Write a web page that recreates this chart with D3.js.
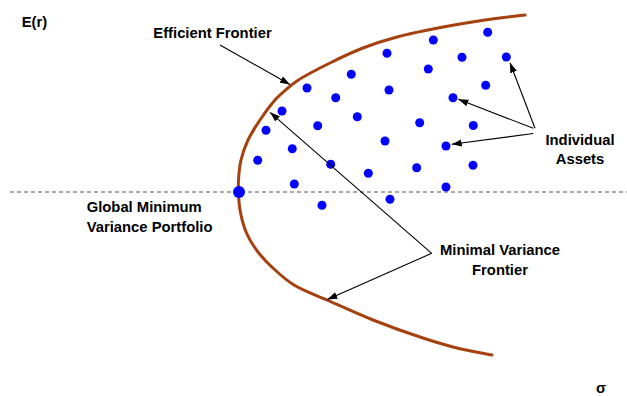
<!DOCTYPE html>
<html>
<head>
<meta charset="utf-8">
<script src="https://cdn.jsdelivr.net/npm/d3@7"></script>
<style>
  body { margin: 0; background: #fff; }
  text { font-family: "Liberation Sans", Arial, sans-serif; font-weight: bold; fill: #000; }
</style>
</head>
<body>
<div id="chart"></div>
<script>
// frontier: [sigma, E(r)]
var frontier = [
  [51.5, 35.7], [45.3, 34.85], [38.7, 33.5], [35.3, 32.4], [32.0, 30.9],
  [28.7, 29.1], [27.0, 27.7], [26.5, 27.2], [25.0, 25.2], [23.8, 23.2],
  [23.1, 21.2], [22.85, 19.2], [22.85, 18.0], [23.0, 16.2], [23.65, 13.9],
  [24.8, 12.0], [26.4, 10.3], [28.4, 8.7], [31.7, 7.2], [36.3, 5.2],
  [41.3, 3.4], [44.7, 2.4], [48.2, 1.7]
];

// individual assets
var assetSigma = [47.77, 42.33, 37.7, 45.2, 49.63, 41.83, 34.13, 29.7, 32.57, 37.9,
                  47.57, 44.3, 34.73, 30.77, 40.97, 46.33, 37.5, 25.6, 28.23, 43.6,
                  24.77, 32.07, 35.83, 40.67, 46.3, 28.43, 43.6, 31.2, 38.0, 27.2];
var assetReturn = [33.97, 33.2, 31.87, 31.47, 31.5, 30.3, 29.77, 28.4, 27.43, 28.2,
                   28.67, 27.43, 25.53, 24.63, 24.93, 24.65, 23.1, 24.17, 22.33, 22.6,
                   21.17, 20.77, 19.87, 20.43, 20.67, 18.8, 18.5, 16.67, 17.27, 26.1];

// global minimum variance portfolio
var gmv = [22.9, 18.0];

var width = 627, height = 396;

var x = d3.scaleLinear().domain([0, 60]).range([10, 610]);
var y = d3.scaleLinear().domain([0, 36]).range([372, 12]);

var svg = d3.select("#chart")
            .append("svg")
            .attr("width", width)
            .attr("height", height);

svg.append("defs")
   .append("marker")
   .attr("id", "arrow")
   .attr("markerUnits", "userSpaceOnUse")
   .attr("viewBox", "0 -4 10 8")
   .attr("refX", 10)
   .attr("refY", 0)
   .attr("markerWidth", 10)
   .attr("markerHeight", 8)
   .attr("orient", "auto")
   .append("path")
   .attr("d", "M0,-3.5L10,0L0,3.5Z")
   .attr("fill", "#000");

// dashed line through the GMV portfolio
svg.append("line")
   .attr("x1", x(0))
   .attr("x2", width)
   .attr("y1", y(gmv[1]))
   .attr("y2", y(gmv[1]))
   .attr("stroke", "#555")
   .attr("stroke-width", 1)
   .attr("stroke-dasharray", "4,3");

var line = d3.line()
             .x(function (d) { return x(d[0]); })
             .y(function (d) { return y(d[1]); })
             .curve(d3.curveCatmullRom.alpha(0.5));

svg.append("path")
   .datum(frontier)
   .attr("d", line)
   .attr("fill", "none")
   .attr("stroke", "#a5400f")
   .attr("stroke-width", 3)
   .attr("stroke-linecap", "round");

svg.append("g")
   .selectAll("circle")
   .data(d3.range(assetSigma.length))
   .enter()
   .append("circle")
   .attr("cx", function (i) { return x(assetSigma[i]); })
   .attr("cy", function (i) { return y(assetReturn[i]); })
   .attr("r", 4.5)
   .attr("fill", "#0000ff");

svg.append("circle")
   .attr("cx", x(gmv[0]))
   .attr("cy", y(gmv[1]))
   .attr("r", 6)
   .attr("fill", "#0000ff");

// annotation arrows, [from, to] in data units
var arrows = [
  [[21.0, 32.7], [28.0, 28.75]],
  [[42.17, 11.87], [26.0, 25.97]],
  [[42.17, 11.87], [31.73, 7.25]],
  [[52.5, 24.37], [50.0, 30.93]],
  [[52.33, 24.37], [44.83, 27.27]],
  [[52.33, 23.85], [44.17, 22.77]]
];

svg.append("g")
   .selectAll("line")
   .data(arrows)
   .enter()
   .append("line")
   .attr("x1", function (d) { return x(d[0][0]); })
   .attr("y1", function (d) { return y(d[0][1]); })
   .attr("x2", function (d) { return x(d[1][0]); })
   .attr("y2", function (d) { return y(d[1][1]); })
   .attr("stroke", "#000")
   .attr("stroke-width", 1.1)
   .attr("marker-end", "url(#arrow)");

// labels
var labels = [
  {t: "E(r)", p: [1.17, 34.55], a: "start"},
  {t: "Efficient Frontier", p: [20.25, 33.45], a: "middle"},
  {t: "Individual", p: [57.0, 22.7], a: "middle"},
  {t: "Assets", p: [57.0, 20.8], a: "middle"},
  {t: "Global Minimum", p: [7.67, 16.0], a: "start"},
  {t: "Variance Portfolio", p: [7.67, 14.03], a: "start"},
  {t: "Minimal Variance", p: [49.0, 11.7], a: "middle"},
  {t: "Frontier", p: [49.0, 9.7], a: "middle"},
  {t: "σ", p: [59.1, -2.1], a: "middle"}
];

svg.append("g")
   .selectAll("text")
   .data(labels)
   .enter()
   .append("text")
   .attr("x", function (d) { return x(d.p[0]); })
   .attr("y", function (d) { return y(d.p[1]); })
   .attr("text-anchor", function (d) { return d.a; })
   .style("font-size", "14.8px")
   .text(function (d) { return d.t; });
</script>
</body>
</html>
